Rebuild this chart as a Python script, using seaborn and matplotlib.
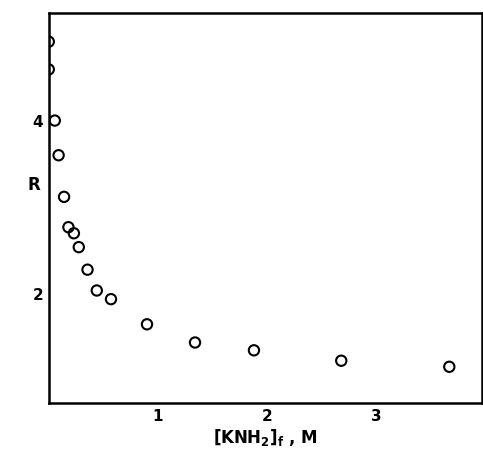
import matplotlib
matplotlib.use("Agg")
import matplotlib.pyplot as plt
import seaborn as sns
import pandas as pd

# Data
knh2_conc = [0.0, 0.0, 0.055, 0.09, 0.14, 0.18, 0.23, 0.275, 0.355, 0.44, 0.57,
             0.90, 1.34, 1.88, 2.68, 3.67]
ratio_r = [4.91, 4.59, 4.00, 3.60, 3.12, 2.77, 2.70, 2.54, 2.28, 2.04, 1.94,
           1.65, 1.44, 1.35, 1.23, 1.16]
x_ticks = [1, 2, 3]
y_ticks = [2, 4]

df = pd.DataFrame({"conc": knh2_conc, "R": ratio_r})

sns.set_theme(style="white")
plt.rcParams["font.family"] = ["DejaVu Sans"]
plt.rcParams["mathtext.default"] = "regular"

fig = plt.figure(figsize=(4.83, 4.5), dpi=100)
ax = fig.add_axes([0.101, 0.104, 0.897, 0.867])

sns.scatterplot(data=df, x="conc", y="R", ax=ax, marker="o", s=55,
                facecolor="none", edgecolor="black", linewidth=1.5, legend=False)

ax.set_xlim(0, 3.97)
ax.set_ylim(0.74, 5.24)
ax.set_xticks(x_ticks)
ax.set_yticks(y_ticks)
ax.tick_params(direction="in", length=9, width=1.5, colors="black",
               labelsize=11, pad=4)
for lbl in ax.get_xticklabels() + ax.get_yticklabels():
    lbl.set_fontweight("bold")

for side in ax.spines.values():
    side.set_color("black")
    side.set_linewidth(1.8)

ax.set_xlabel("[KNH$_2$]$_f$ , M", fontsize=12, fontweight="bold",
              labelpad=2, color="black")
ax.set_ylabel("R", fontsize=12, fontweight="bold", rotation=0, color="black")
ax.yaxis.set_label_coords(-0.035, 0.535)

fig.savefig("out.png", dpi=100)
